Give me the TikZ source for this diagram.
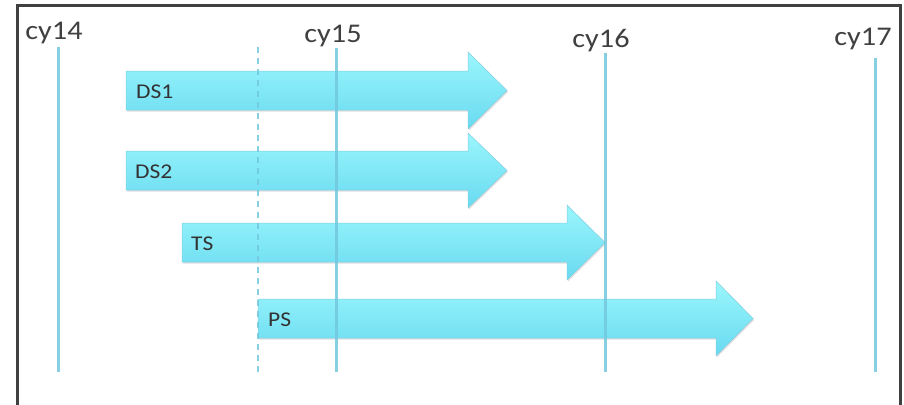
\documentclass[tikz,border=0pt]{standalone}
\usepackage{fontspec}
\setmainfont{Carlito}[FakeStretch=1.12]
\usetikzlibrary{shadows}
\definecolor{framegray}{RGB}{64,64,64}
\definecolor{linecyan}{RGB}{115,200,222}
\definecolor{arrtop}{RGB}{155,246,252}
\definecolor{arrbot}{RGB}{104,218,240}
\definecolor{arredge}{RGB}{130,205,225}
\definecolor{txt}{RGB}{50,50,50}
\begin{document}
\begin{tikzpicture}[x=1pt,y=-1pt,
 cyline/.style={draw=linecyan,line width=3pt,opacity=0.85},
 dashline/.style={cyline,dash pattern=on 6pt off 5pt,line width=2.5pt},
 cylabel/.style={font=\fontsize{27}{27}\selectfont,text=framegray,inner sep=0pt,anchor=base},
 arrlabel/.style={font=\fontsize{21}{21}\selectfont,text=txt,anchor=west,inner sep=0pt},
 arrbox/.style={top color=arrtop,bottom color=arrbot,draw=arredge,line width=0.5pt,
   drop shadow={shadow xshift=1pt,shadow yshift=-1.5pt,opacity=0.25}}
]
\useasboundingbox (0,0) rectangle (904,404);
\fill[white] (0,0) rectangle (904,404);
\draw[framegray,line width=3pt] (17,420) -- (17,6) -- (900,6) -- (900,420);

% arrows
\path[arrbox] (126,71) -- (468,71) -- (468,52) -- (507,90.5) -- (468,129) -- (468,110) -- (126,110) -- cycle;
\path[arrbox] (126,151) -- (468,151) -- (468,133) -- (507,170.5) -- (468,208) -- (468,190) -- (126,190) -- cycle;
\path[arrbox] (182,223) -- (567,223) -- (567,205) -- (605,242.5) -- (567,280) -- (567,262) -- (182,262) -- cycle;
\path[arrbox] (258,299) -- (716,299) -- (716,281) -- (753,318.5) -- (716,356) -- (716,338) -- (258,338) -- cycle;

\node[arrlabel] (ds1) at (136,92) {DS1};
\node[arrlabel] (ds2) at (135,172) {DS2};
\node[arrlabel] (ts) at (191,244) {TS};
\node[arrlabel] (ps) at (268,320) {PS};

% cycle lines
\coordinate (c14t) at (58,47);  \coordinate (c14b) at (58,372);
\coordinate (dt) at (258,47);   \coordinate (db) at (258,372);
\coordinate (c15t) at (336,48); \coordinate (c15b) at (336,372);
\coordinate (c16t) at (605,53); \coordinate (c16b) at (605,372);
\coordinate (c17t) at (875,58); \coordinate (c17b) at (875,372);
\draw[cyline] (c14t) -- (c14b);
\draw[dashline] (dt) -- (db);
\draw[cyline] (c15t) -- (c15b);
\draw[cyline] (c16t) -- (c16b);
\draw[cyline] (c17t) -- (c17b);

\node[cylabel] (l14) at (54,40) {cy14};
\node[cylabel] (l15) at (333,43) {cy15};
\node[cylabel] (l16) at (601,48) {cy16};
\node[cylabel] (l17) at (863,46) {cy17};
\end{tikzpicture}
\end{document}
